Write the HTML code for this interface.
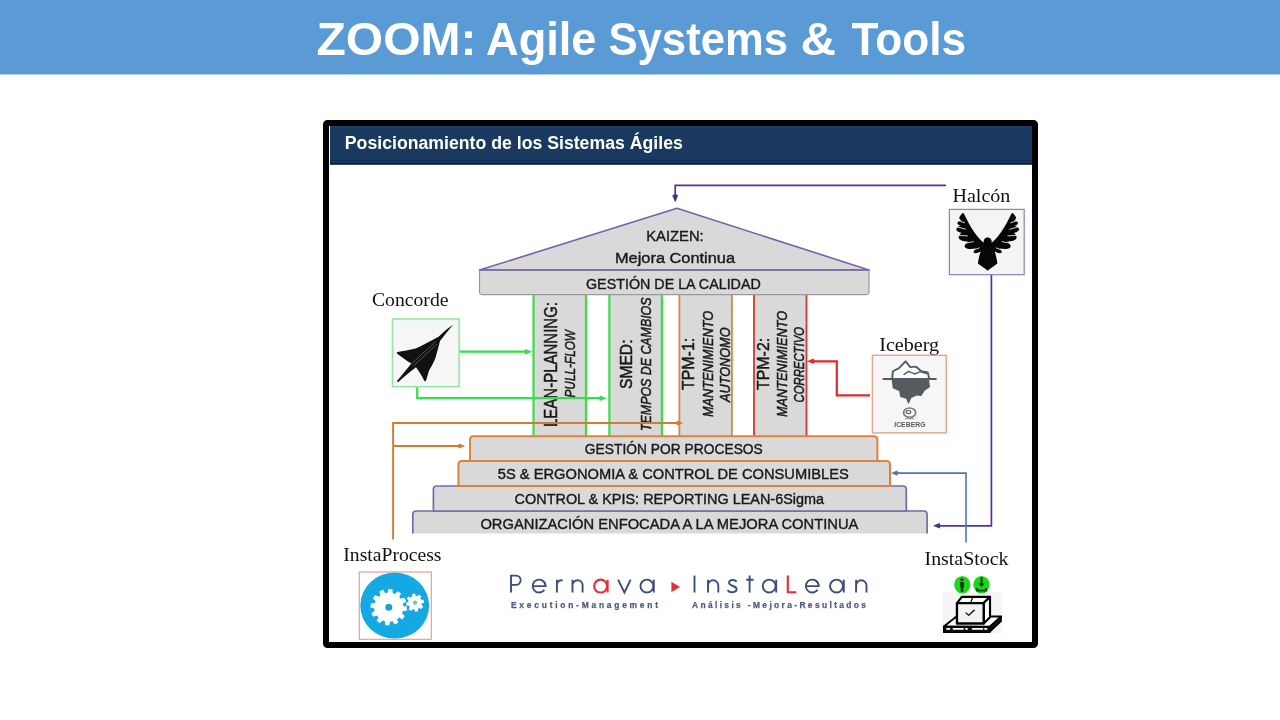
<!DOCTYPE html>
<html>
<head>
<meta charset="utf-8">
<title>ZOOM: Agile Systems &amp; Tools</title>
<style>
html,body{margin:0;padding:0;background:#fff;}
body{width:1280px;height:720px;overflow:hidden;position:relative;font-family:"Liberation Sans",sans-serif;}
svg{position:absolute;left:0;top:0;display:block;will-change:transform;}
text{font-family:"Liberation Sans",sans-serif;}
.sf text{font-family:"Liberation Serif",serif;fill:#111;}
.lbl{fill:#1a1a1a;}
</style>
</head>
<body>
<svg width="1280" height="720" viewBox="0 0 1280 720">
<!-- HEADER -->
<rect x="0" y="0" width="1280" height="74.5" fill="#5b9bd5"/>
<g font-size="46" font-weight="bold" fill="#fff">
<text x="316.5" y="55" textLength="160" lengthAdjust="spacingAndGlyphs">ZOOM:</text>
<text x="486" y="55" textLength="110.5" lengthAdjust="spacingAndGlyphs">Agile</text>
<text x="608.5" y="55" textLength="179.5" lengthAdjust="spacingAndGlyphs">Systems</text>
<text x="800.5" y="55" textLength="35.5" lengthAdjust="spacingAndGlyphs">&amp;</text>
<text x="851.5" y="55" textLength="114.5" lengthAdjust="spacingAndGlyphs">Tools</text>
</g>

<!-- FRAME -->
<rect x="326" y="123" width="709" height="522" rx="1.5" ry="1.5" fill="#fff" stroke="#000" stroke-width="6"/>
<rect x="330" y="126" width="702" height="38.6" fill="#19395f"/>
<rect x="330" y="126.6" width="702" height="1.2" fill="#233d68"/>
<rect x="330" y="159.8" width="702" height="1.4" fill="#122b58"/>
<rect x="330" y="161.2" width="702" height="1.4" fill="#1c396c"/>
<rect x="330" y="162.8" width="702" height="1.8" fill="#0d2146"/>
<text x="344.8" y="149" font-size="18" font-weight="bold" fill="#fff" textLength="338" lengthAdjust="spacingAndGlyphs">Posicionamiento de los Sistemas Ágiles</text>

<!-- STRUCTURE -->
<g id="structure">
<!-- columns -->
<rect x="533.5" y="295" width="52.5" height="141" fill="#d9d9d9"/>
<rect x="609.4" y="295" width="52.5" height="141" fill="#d9d9d9"/>
<rect x="679.4" y="295" width="52.5" height="141" fill="#d9d9d9"/>
<rect x="754" y="295" width="52.5" height="141" fill="#d9d9d9"/>
<g stroke="#3ddc4b" stroke-width="2.2">
<line x1="533.5" y1="295" x2="533.5" y2="436"/><line x1="586" y1="295" x2="586" y2="436"/>
<line x1="609.4" y1="295" x2="609.4" y2="436"/><line x1="661.9" y1="295" x2="661.9" y2="436"/>
</g>
<g stroke="#d4854a" stroke-width="1.8">
<line x1="679.4" y1="295" x2="679.4" y2="436"/><line x1="731.9" y1="295" x2="731.9" y2="436"/>
</g>
<g stroke="#d4382e" stroke-width="1.8">
<line x1="754" y1="295" x2="754" y2="436"/><line x1="806.5" y1="295" x2="806.5" y2="436"/>
</g>
<!-- roof -->
<path d="M479.5 270 L677 208.3 L869 270 Z" fill="#d9d9d9" stroke="#7562a8" stroke-width="1.6" stroke-linejoin="round"/>
<path d="M479.5 270 H869 V291.5 Q869 294.7 865.8 294.7 H482.7 Q479.5 294.7 479.5 291.5 Z" fill="#d9d9d9" stroke="#9a9a9a" stroke-width="1.2"/>
<line x1="479.5" y1="270" x2="869" y2="270" stroke="#7562a8" stroke-width="1.6"/>
<!-- steps -->
<path d="M412.8 533.5 V514.5 Q412.8 511 416.3 511 H923.6 Q927.1 511 927.1 514.5 V533.5 Z" fill="#d9d9d9"/>
<path d="M412.8 533.5 V514.5 Q412.8 511 416.3 511 H923.6 Q927.1 511 927.1 514.5 V533.5" fill="none" stroke="#736bac" stroke-width="1.7"/>
<path d="M433.4 511 V489.5 Q433.4 486 436.9 486 H902.8 Q906.3 486 906.3 489.5 V511 Z" fill="#d9d9d9" stroke="#736bac" stroke-width="1.7"/>
<path d="M458.4 486 V464.5 Q458.4 461 461.9 461 H886.5 Q890 461 890 464.5 V486 Z" fill="#d9d9d9" stroke="#dc843c" stroke-width="2"/>
<path d="M470 461 V439.7 Q470 436.2 473.5 436.2 H873.9 Q877.4 436.2 877.4 439.7 V461 Z" fill="#d9d9d9" stroke="#dc843c" stroke-width="2"/>
</g>

<!-- LABELS -->
<g class="lbl" font-size="15.3" fill="#1a1a1a" stroke="#1a1a1a" stroke-width="0.4">
<text x="646.2" y="241.3" textLength="57.5" lengthAdjust="spacingAndGlyphs">KAIZEN:</text>
<text x="615" y="263.2" textLength="120" lengthAdjust="spacingAndGlyphs">Mejora Continua</text>
<text x="586" y="288.5" textLength="174.8" lengthAdjust="spacingAndGlyphs">GESTIÓN DE LA CALIDAD</text>
<text x="584.8" y="454.2" textLength="178" lengthAdjust="spacingAndGlyphs">GESTIÓN POR PROCESOS</text>
<text x="497.8" y="479.3" textLength="351" lengthAdjust="spacingAndGlyphs">5S &amp; ERGONOMIA &amp; CONTROL DE CONSUMIBLES</text>
<text x="514.6" y="503.9" textLength="309.5" lengthAdjust="spacingAndGlyphs">CONTROL &amp; KPIS: REPORTING LEAN-6Sigma</text>
<text x="480.4" y="528.9" textLength="378" lengthAdjust="spacingAndGlyphs">ORGANIZACIÓN ENFOCADA A LA MEJORA CONTINUA</text>
</g>
<g class="lbl" fill="#1a1a1a" stroke="#1a1a1a" stroke-width="0.5">
<text transform="translate(557.3,427) rotate(-90)" font-size="18" textLength="125" lengthAdjust="spacingAndGlyphs">LEAN-PLANNING:</text>
<text transform="translate(575,397.5) rotate(-90)" font-size="14.5" font-style="italic" textLength="67.5" lengthAdjust="spacingAndGlyphs">PULL-FLOW</text>
<text transform="translate(631.9,389) rotate(-90)" font-size="17" textLength="49.5" lengthAdjust="spacingAndGlyphs">SMED:</text>
<text transform="translate(651,431) rotate(-90)" font-size="14.5" font-style="italic" textLength="133.5" lengthAdjust="spacingAndGlyphs">TEMPOS DE CAMBIOS</text>
<text transform="translate(694.4,390) rotate(-90)" font-size="17" textLength="52.2" lengthAdjust="spacingAndGlyphs">TPM-1:</text>
<text transform="translate(712.5,417) rotate(-90)" font-size="14.5" font-style="italic" textLength="106" lengthAdjust="spacingAndGlyphs">MANTENIMIENTO</text>
<text transform="translate(730,402) rotate(-90)" font-size="14.5" font-style="italic" textLength="74.5" lengthAdjust="spacingAndGlyphs">AUTONOMO</text>
<text transform="translate(768.8,390) rotate(-90)" font-size="17" textLength="52.2" lengthAdjust="spacingAndGlyphs">TPM-2:</text>
<text transform="translate(787,417) rotate(-90)" font-size="14.5" font-style="italic" textLength="106" lengthAdjust="spacingAndGlyphs">MANTENIMIENTO</text>
<text transform="translate(804.4,402.5) rotate(-90)" font-size="14.5" font-style="italic" textLength="75.5" lengthAdjust="spacingAndGlyphs">CORRECTIVO</text>
</g>
<!-- SERIF LABELS -->
<g class="sf" font-size="19">
<text x="372" y="305.8" textLength="76.5" lengthAdjust="spacingAndGlyphs">Concorde</text>
<text x="952.4" y="201.7" textLength="58" lengthAdjust="spacingAndGlyphs">Halcón</text>
<text x="879.2" y="351.4" textLength="60" lengthAdjust="spacingAndGlyphs">Iceberg</text>
<text x="343.3" y="561.3" textLength="98.2" lengthAdjust="spacingAndGlyphs">InstaProcess</text>
<text x="924.5" y="564.5" textLength="84" lengthAdjust="spacingAndGlyphs">InstaStock</text>
</g>
<!--ARROWS-->
<g fill="none" stroke-linejoin="miter">
<!-- purple Halcon -> roof -->
<path d="M946 185.3 H675.2 V198" stroke="#56329a" stroke-width="1.7"/>
<path d="M672.3 195.5 L675.2 202.5 L678.1 195.5 L675.2 193.8 Z" fill="#4c2c90" stroke="none"/>
<!-- purple Halcon -> base -->
<path d="M991.4 275 V525.8 H938" stroke="#56329a" stroke-width="1.7"/>
<path d="M939.6 523 L933 525.8 L939.6 528.6 L940.6 525.8 Z" fill="#4c2c90" stroke="none"/>
<!-- blue InstaStock -> 5S -->
<path d="M966 542.5 V473.1 H896" stroke="#4a76bc" stroke-width="1.6"/>
<path d="M897.2 470.5 L891 473.1 L897.2 475.7 L898.2 473.1 Z" fill="#4a76bc" stroke="none"/>
<!-- red Iceberg -> TPM-2 -->
<path d="M870 395.3 H836.8 V361.3 H812" stroke="#de2a2a" stroke-width="2.2"/>
<path d="M813.6 358.5 L807 361.3 L813.6 364.1 L814.6 361.3 Z" fill="#de2a2a" stroke="none"/>
<!-- green Concorde arrows -->
<path d="M459.5 351.7 H527" stroke="#33e04a" stroke-width="2.2"/>
<path d="M525.5 348.9 L532.5 351.7 L525.5 354.5 L524 351.7 Z" fill="#33e04a" stroke="none"/>
<path d="M417.2 386.7 V398.2 H601" stroke="#33e04a" stroke-width="2.2"/>
<path d="M600 395.4 L606.8 398.2 L600 401 L599 398.2 Z" fill="#33e04a" stroke="none"/>
<!-- orange InstaProcess arrows -->
<path d="M393.1 539.5 V423 H678" stroke="#d47b33" stroke-width="1.9"/>
<path d="M677 420.4 L683.3 423 L677 425.6 L676 423 Z" fill="#d47b33" stroke="none"/>
<path d="M393.1 446 H460" stroke="#d47b33" stroke-width="1.9"/>
<path d="M459 443.4 L465.4 446 L459 448.6 L458 446 Z" fill="#d47b33" stroke="none"/>
</g>
<!--ICONS-->
<!-- Concorde -->
<rect x="392.5" y="319" width="66.6" height="67.7" fill="#f6f6f6" stroke="#8fe79b" stroke-width="1.5"/>
<g transform="translate(388,314) scale(0.10826)">
<path d="M600 100 C560 125 510 170 470 208 L420 235 C360 265 300 300 255 318 C200 332 140 342 88 350 Q74 356 84 364 C120 392 170 430 215 458 C170 515 120 575 82 622 L92 630 C150 580 215 525 258 492 C285 525 315 575 335 616 Q344 628 352 614 C362 580 372 545 380 520 C410 470 430 430 440 400 C455 350 468 300 480 250 C510 210 560 150 600 100 Z" fill="#111"/>
<path d="M205 470 L440 255 M235 480 L455 275" stroke="#6b6b6b" stroke-width="7" fill="none"/>
</g>
<!-- Halcon -->
<rect x="949.4" y="209.4" width="74.8" height="65.3" fill="#f4f4f4" stroke="#8a7fbc" stroke-width="1.2"/>
<g transform="translate(946,205) scale(0.10417)" fill="#060606">
<g>
<path d="M404 312 L400 312 C372 312 358 335 362 362 C335 340 300 305 270 260 C235 210 200 140 172 84 Q160 70 150 86 C140 100 130 112 126 124 Q132 140 150 146 C130 150 112 158 108 172 Q112 192 140 198 C118 204 100 218 98 236 Q102 258 150 268 C128 280 118 300 124 322 Q140 350 215 352 C190 366 176 384 180 402 Q200 432 285 418 C272 432 262 446 266 458 Q290 470 332 446 C322 480 312 520 306 562 L400 628 L404 628 Z"/>
<path d="M108 148 L178 170 M92 206 L188 232 M104 292 L205 296 M160 372 L262 352 M240 442 L318 412" stroke="#f4f4f4" stroke-width="8" stroke-linecap="round" fill="none"/>
</g>
<g transform="translate(800,0) scale(-1,1)">
<path d="M404 312 L400 312 C372 312 358 335 362 362 C335 340 300 305 270 260 C235 210 200 140 172 84 Q160 70 150 86 C140 100 130 112 126 124 Q132 140 150 146 C130 150 112 158 108 172 Q112 192 140 198 C118 204 100 218 98 236 Q102 258 150 268 C128 280 118 300 124 322 Q140 350 215 352 C190 366 176 384 180 402 Q200 432 285 418 C272 432 262 446 266 458 Q290 470 332 446 C322 480 312 520 306 562 L400 628 L404 628 Z"/>
<path d="M108 148 L178 170 M92 206 L188 232 M104 292 L205 296 M160 372 L262 352 M240 442 L318 412" stroke="#f4f4f4" stroke-width="8" stroke-linecap="round" fill="none"/>
</g>
<rect x="390" y="330" width="20" height="288"/>
</g>
<!-- Iceberg -->
<rect x="872.4" y="355.3" width="73.8" height="77.6" fill="#f6f6f6" stroke="#e3a58a" stroke-width="1.4"/>
<g transform="translate(870,352) scale(0.11662)">
<path d="M185 232 L195 310 L250 335 L260 385 L310 400 L330 447 L355 395 L400 372 L440 377 L470 330 L515 300 L505 232 Z" fill="#565b62"/>
<path d="M190 232 L196 165 L246 140 L305 80 L345 130 L395 126 L440 165 L495 176 L508 232" fill="#fdfdfd" stroke="#565b62" stroke-width="16" stroke-linejoin="round"/>
<path d="M292 192 L330 166 L382 188 L432 168 L482 184" fill="none" stroke="#565b62" stroke-width="13" stroke-linejoin="round" stroke-linecap="round"/>
<path d="M115 232 H565" stroke="#565b62" stroke-width="16" stroke-linecap="round"/>
<ellipse cx="340" cy="520" rx="52" ry="40" fill="none" stroke="#777" stroke-width="14"/>
<ellipse cx="330" cy="515" rx="20" ry="14" fill="none" stroke="#555" stroke-width="9"/>
<path d="M300 572 H380" stroke="#888" stroke-width="8"/>
<text x="208" y="642" font-size="56" font-weight="bold" fill="#5a5a5a" textLength="268" lengthAdjust="spacingAndGlyphs">ICEBERG</text>
</g>
<!-- InstaProcess -->
<rect x="359.3" y="572" width="72" height="67.3" fill="#fff" stroke="#e59a80" stroke-width="1.1"/>
<ellipse cx="394.7" cy="605.6" rx="34.4" ry="33" fill="#14a9e2"/>
<path d="M402.01 613.42 L404.83 616.02 L402.46 619.38 L399.07 617.58 L397.13 619.19 L398.28 622.85 L394.54 624.58 L392.50 621.32 L390.02 621.75 L389.18 625.50 L385.09 625.12 L384.94 621.28 L382.58 620.41 L379.98 623.23 L376.62 620.86 L378.42 617.47 L376.81 615.53 L373.15 616.68 L371.42 612.94 L374.68 610.90 L374.25 608.42 L370.50 607.58 L370.88 603.49 L374.72 603.34 L375.59 600.98 L372.77 598.38 L375.14 595.02 L378.53 596.82 L380.47 595.21 L379.32 591.55 L383.06 589.82 L385.10 593.08 L387.58 592.65 L388.42 588.90 L392.51 589.28 L392.66 593.12 L395.02 593.99 L397.62 591.17 L400.98 593.54 L399.18 596.93 L400.79 598.87 L404.45 597.72 L406.18 601.46 L402.92 603.50 L403.35 605.98 L407.10 606.82 L406.72 610.91 L402.88 611.06 Z" fill="#fff"/>
<circle cx="388.8" cy="607.2" r="3.5" fill="#1a9fd0"/>
<path d="M421.48 605.07 L423.22 606.61 L421.46 609.11 L419.42 608.00 L417.91 608.96 L418.04 611.28 L415.03 611.80 L414.37 609.57 L412.63 609.18 L411.09 610.92 L408.59 609.16 L409.70 607.12 L408.74 605.61 L406.42 605.74 L405.90 602.73 L408.13 602.07 L408.52 600.33 L406.78 598.79 L408.54 596.29 L410.58 597.40 L412.09 596.44 L411.96 594.12 L414.97 593.60 L415.63 595.83 L417.37 596.22 L418.91 594.48 L421.41 596.24 L420.30 598.28 L421.26 599.79 L423.58 599.66 L424.10 602.67 L421.87 603.33 Z" fill="#fff"/>
<circle cx="415" cy="602.7" r="2.1" fill="#6cc6c0"/>
<!-- InstaStock -->
<rect x="942.5" y="592" width="59.3" height="41" fill="#f5f5f5"/>
<g transform="translate(938,570) scale(0.09722)">
<ellipse cx="250" cy="152" rx="84" ry="90" fill="#1fd61f"/>
<ellipse cx="447" cy="152" rx="84" ry="90" fill="#1fd61f"/>
<circle cx="246" cy="100" r="17" fill="#0c3d0c"/>
<path d="M226 124 H268 V178 H260 V226 H234 V178 H226 Z" fill="#0c3d0c"/>
<path d="M438 72 H458 V140 H480 L448 176 L416 140 H438 Z" fill="#0c3d0c"/>
<path d="M392 186 H412 V200 H484 V186 H504 V220 H392 Z" fill="#0c4d0c"/>
<!-- pallet -->
<path d="M60 582 L190 478 H650 L530 586 Z" fill="#fff" stroke="#000" stroke-width="20" stroke-linejoin="round"/>
<path d="M530 586 L650 478 V526 L530 640 Z" fill="#111" stroke="#000" stroke-width="14" stroke-linejoin="round"/>
<path d="M60 582 H530 V640 H60 Z" fill="#111" stroke="#000" stroke-width="18" stroke-linejoin="round"/>
<path d="M92 606 H118 M158 606 H258 M286 606 H300 M356 606 H458 M482 606 H500" stroke="#fff" stroke-width="17" stroke-linecap="round"/>
<!-- box -->
<path d="M195 340 L245 276 H535 L470 340 Z" fill="#fff" stroke="#000" stroke-width="22" stroke-linejoin="round"/>
<path d="M470 340 L535 276 V486 L470 550 Z" fill="#fff" stroke="#000" stroke-width="22" stroke-linejoin="round"/>
<path d="M195 340 H470 V550 H195 Z" fill="#f3f3f3" stroke="#000" stroke-width="24" stroke-linejoin="round"/>
<path d="M356 282 L336 334" stroke="#000" stroke-width="12"/>
<path d="M284 440 L316 466 L376 410" fill="none" stroke="#222" stroke-width="15" stroke-linejoin="round"/>
</g>
<!--LOGO-->
<g fill="none" stroke="#3b4f7d" stroke-width="1.9">
<path d="M511 592.5 V575.6 H516 A4.65 4.65 0 0 1 516 584.90 H511"/>
<path d="M532.65 586.10 H545.55 A6.45 6.45 0 1 0 544.38 589.80"/>
<path d="M556.9 579.7 V592.5 M556.9 584.30 Q557.4 580.00 562.6 580.30"/>
<path d="M572.5 579.7 V592.5 M572.5 585.35 A5.05 5.05 0 0 1 582.6 585.35 V592.5"/>
<path d="M618.1 579.7 L624.4 592.5 L630.7 579.7"/>
<circle cx="646.9" cy="586.10" r="6.45"/><path d="M653.8 579.7 V592.5"/>
<path d="M694.5 575.6 V592.5"/>
<path d="M708 579.7 V592.5 M708 585.45 A5.15 5.15 0 0 1 718.3 585.45 V592.5"/>
<path d="M736.30 582.00 C735.60 579.30 728.80 579.10 729.00 582.70 C729.20 586.30 736.60 585.70 736.60 589.10 C736.60 593.10 728.60 593.30 728.00 589.90"/>
<path d="M749.6 575.6 V592.5 M746.2 579.7 H753.6"/>
<circle cx="769.2" cy="586.10" r="6.45"/><path d="M776.2 579.7 V592.5"/>
<path d="M805.85 586.10 H818.75 A6.45 6.45 0 1 0 817.58 589.80"/>
<circle cx="836.5" cy="586.10" r="6.45"/><path d="M843.8 579.7 V592.5"/>
<path d="M856.1 579.7 V592.5 M856.1 585.50 A5.20 5.20 0 0 1 866.5 585.50 V592.5"/>
</g>
<g fill="none" stroke="#e0313a" stroke-width="2.1">
<circle cx="600.6" cy="586.10" r="6.45"/><path d="M607.6 579.7 V592.5"/>
<path d="M787.8 575.6 V592.3 H796.4"/>
</g>
<path d="M671.4 581.8 L680.2 586.9 L671.4 592 Z" fill="#e0313a"/>
<g font-size="8.4" font-weight="bold" fill="#4d5a80" stroke="#4d5a80" stroke-width="0.25">
<text x="511" y="607.5" textLength="147" lengthAdjust="spacing">Execution-Management</text>
<text x="692" y="607.5" textLength="174" lengthAdjust="spacing">Análisis -Mejora-Resultados</text>
</g>
</svg>
</body>
</html>
